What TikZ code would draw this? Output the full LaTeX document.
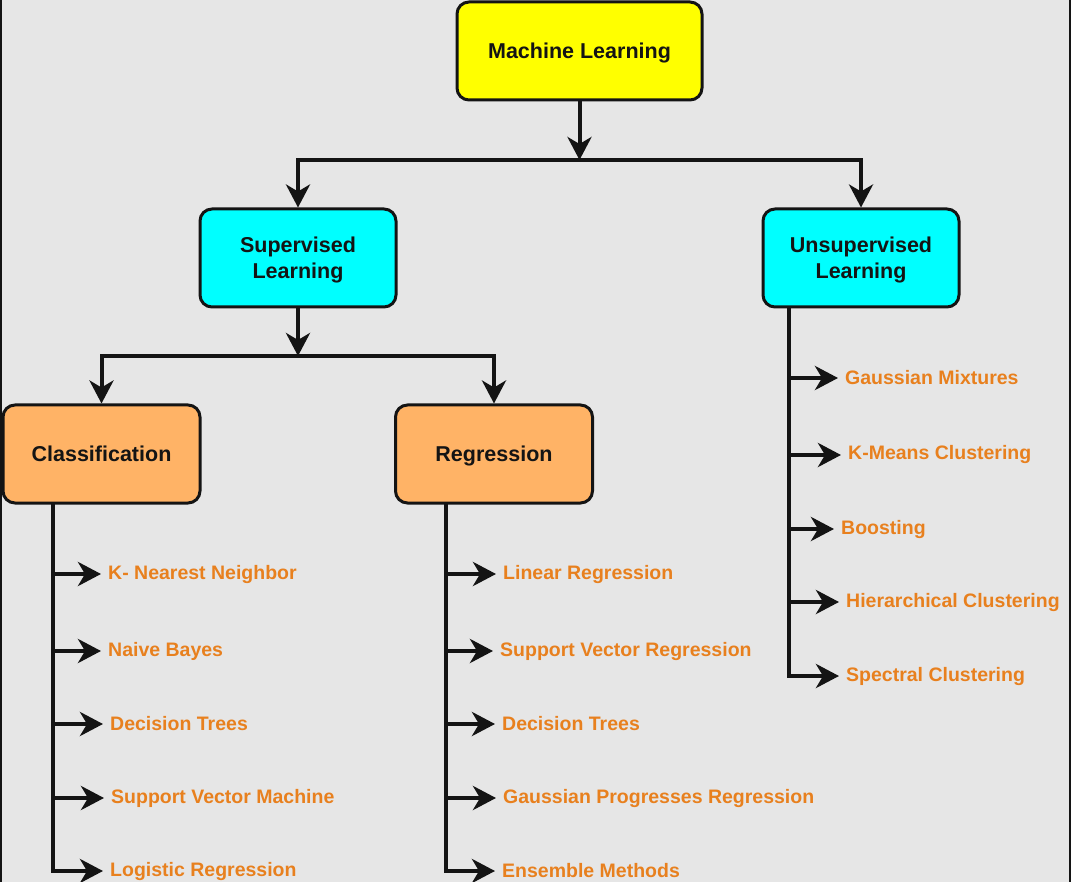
\documentclass[tikz,border=0pt]{standalone}
\usepackage{fontspec}
\setmainfont{Liberation Sans}
\usetikzlibrary{arrows.meta}
\definecolor{bg}{RGB}{230,230,230}
\definecolor{ylw}{RGB}{255,255,0}
\definecolor{cyn}{RGB}{0,255,255}
\definecolor{org}{RGB}{255,179,102}
\definecolor{itemc}{RGB}{232,128,30}
\definecolor{ink}{RGB}{20,20,20}
\tikzset{
  box/.style={draw=ink, line width=3pt, rounded corners=12pt, minimum height=98pt,
    align=center, text=ink, text depth=0pt, font=\fontsize{21.5}{26}\selectfont\bfseries},
  mlbox/.style={box, fill=ylw, minimum width=245pt},
  lvbox/.style={box, fill=cyn, minimum width=196pt},
  clbox/.style={box, fill=org, minimum width=197pt},
  item/.style={anchor=west, inner sep=0pt, text=itemc, font=\fontsize{19.5}{23}\selectfont\bfseries},
  conn/.style={draw=ink, line width=4pt},
  arr/.style={conn, -{Stealth[length=23pt,width=24pt,inset=7pt]}}
}
\begin{document}
\begin{tikzpicture}[x=1pt,y=-1pt]
\useasboundingbox (0,0) rectangle (1071,882);
\fill[bg] (0,0) rectangle (1071,882);
\clip (0,0) rectangle (1071,882);
\fill[ink] (0,0) rectangle (2,882);
\fill[ink] (1069,0) rectangle (1071,882);

\node[mlbox] (ml) at (579.5,51) {Machine Learning};
\node[lvbox] (sup) at (298,258) {Supervised\\Learning};
\node[lvbox] (uns) at (861,258) {Unsupervised\\Learning};
\node[clbox] (cls) at (101.5,454) {Classification};
\node[clbox] (reg) at (494,454) {Regression};

\coordinate (j1) at (ml.south |- 0,160);
\coordinate (j2) at (sup.south |- 0,356);

\draw[arr] (ml.south) -- (j1);
\draw[arr] (j1) -| (sup.north);
\draw[arr] (j1) -| (uns.north);
\draw[arr] (sup.south) -- (j2);
\draw[arr] (j2) -| (cls.north);
\draw[arr] (j2) -| (reg.north);

% Classification items
\node[item] (c1) at (108,574) {K- Nearest Neighbor};
\node[item] (c2) at (108,651) {Naive Bayes};
\node[item] (c3) at (110,724) {Decision Trees};
\node[item] (c4) at (111,798) {Support Vector Machine};
\node[item] (c5) at (110,871) {Logistic Regression};
\coordinate (cl) at (53,503);
\foreach \n in {c1,c2,c3,c4,c5}{
  \draw[arr] (cl) |- ([xshift=-7pt]\n.west);
}

% Regression items
\node[item] (r1) at (503,574) {Linear Regression};
\node[item] (r2) at (500,651) {Support Vector Regression};
\node[item] (r3) at (502,724) {Decision Trees};
\node[item] (r4) at (503,798) {Gaussian Progresses Regression};
\node[item] (r5) at (502,871) {Ensemble Methods};
\coordinate (rl) at (446,503);
\foreach \n in {r1,r2,r3,r4,r5}{
  \draw[arr] (rl) |- ([xshift=-7pt]\n.west);
}

% Unsupervised items
\node[item] (u1) at (845,378) {Gaussian Mixtures};
\node[item] (u2) at (848,455) {K-Means Clustering};
\node[item] (u3) at (841,529) {Boosting};
\node[item] (u4) at (846,602) {Hierarchical Clustering};
\node[item] (u5) at (846,676) {Spectral Clustering};
\coordinate (ul) at (789,307);
\foreach \n in {u1,u2,u3,u4,u5}{
  \draw[arr] (ul) |- ([xshift=-7pt]\n.west);
}
\end{tikzpicture}
\end{document}
